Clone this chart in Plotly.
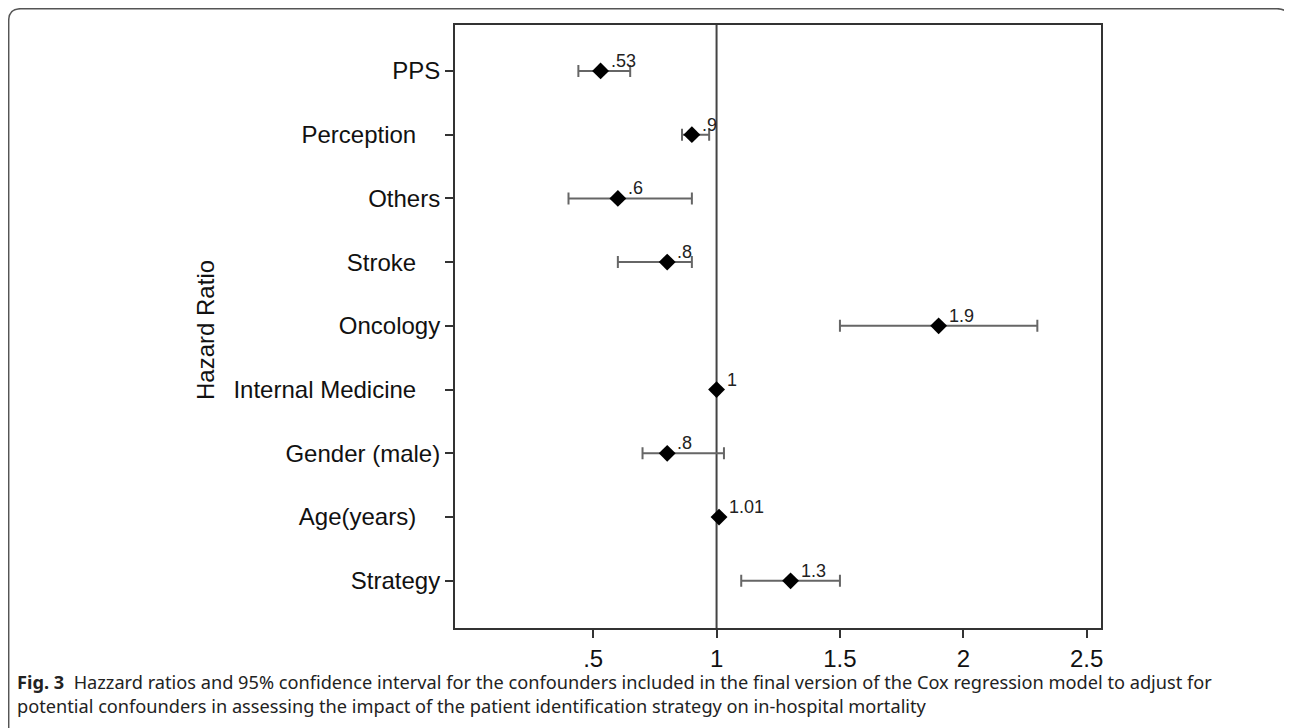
import plotly.graph_objects as go

categories = ["Strategy", "Age(years)", "Gender (male)", "Internal Medicine", "Oncology",
              "Stroke", "Others", "Perception", "PPS"]
label_pad = ["", "\u2002\u2002", "", "\u2002\u2002", "", "\u2002\u2002", "", "\u2002\u2002", ""]
hr = [1.3, 1.01, 0.8, 1.0, 1.9, 0.8, 0.6, 0.9, 0.53]
ci_low = [1.1, 1.01, 0.70, 1.0, 1.5, 0.60, 0.40, 0.86, 0.44]
ci_high = [1.5, 1.01, 1.03, 1.0, 2.3, 0.90, 0.90, 0.97, 0.65]
hr_labels = ["1.3", "1.01", ".8", "1", "1.9", ".8", ".6", ".9", ".53"]
x_ticks = [0.5, 1, 1.5, 2, 2.5]
x_tick_labels = [".5", "1", "1.5", "2", "2.5"]

ypos = list(range(1, len(categories) + 1))
tick_labels = [c + p for c, p in zip(categories, label_pad)]
err_plus = [h - v for h, v in zip(ci_high, hr)]
err_minus = [v - l for v, l in zip(hr, ci_low)]
has_ci = [h > l for h, l in zip(ci_high, ci_low)]

OFF = 8  # page body margin
W, H = 1292 - OFF, 728 - OFF
L, R, T, B = 455 - OFF, 1101 - OFF, 25 - OFF, 628 - OFF
pw, ph = R - L, B - T

def px(x_ref):
    return (x_ref - OFF - L) / pw

def py(y_ref):
    return (B - (y_ref - OFF)) / ph

FONT = "Liberation Sans, Arial, Helvetica, sans-serif"

fig = go.Figure()

# reference line at HR = 1
fig.add_shape(type="line", xref="x", yref="paper", x0=1, x1=1, y0=0, y1=1,
              line=dict(color="#444444", width=2), layer="below")

# confidence intervals
fig.add_trace(go.Scatter(
    x=[h for h, c in zip(hr, has_ci) if c],
    y=[y for y, c in zip(ypos, has_ci) if c],
    mode="markers",
    marker=dict(size=0.1, color="rgba(0,0,0,0)"),
    error_x=dict(type="data", symmetric=False,
                 array=[e for e, c in zip(err_plus, has_ci) if c],
                 arrayminus=[e for e, c in zip(err_minus, has_ci) if c],
                 color="#666666", thickness=2, width=6),
    hoverinfo="skip", showlegend=False))

# point estimates
fig.add_trace(go.Scatter(
    x=hr, y=ypos, mode="markers",
    marker=dict(symbol="diamond", size=13, color="black"),
    showlegend=False))

# value labels
for xv, yv, t in zip(hr, ypos, hr_labels):
    fig.add_annotation(x=xv, y=yv, xref="x", yref="y", text=t, showarrow=False,
                       xanchor="left", yanchor="middle", xshift=8, yshift=10,
                       font=dict(family=FONT, size=18, color="#222222"))

axis_common = dict(ticks="outside", ticklen=8, tickwidth=1.5, tickcolor="#333333",
                   showgrid=False, zeroline=False, showline=True, linecolor="#333333",
                   linewidth=2, mirror=True,
                   tickfont=dict(family=FONT, size=24, color="#111111"))
fig.update_xaxes(range=[-0.06, 2.558], tickvals=x_ticks, ticktext=x_tick_labels, **axis_common)
fig.update_yaxes(range=[0.26, 9.72], tickvals=ypos, ticktext=tick_labels, **axis_common)

# y-axis title
fig.add_annotation(text="Hazard Ratio", xref="paper", yref="paper",
                   x=px(205), y=py(330), xanchor="center", yanchor="middle",
                   textangle=-90, showarrow=False,
                   font=dict(family=FONT, size=24, color="#111111"))

# caption
fig.add_annotation(
    text="<b>Fig. 3</b>  Hazzard ratios and 95% confidence interval for the confounders included in the final version of the Cox regression model to adjust for<br>"
         "potential confounders in assessing the impact of the patient identification strategy on in-hospital mortality",
    xref="paper", yref="paper", x=px(15), y=py(668), xanchor="left", yanchor="top",
    align="left", showarrow=False,
    font=dict(family="Noto Sans, Open Sans, sans-serif", size=18.2, color="#222222"))

# outer rounded frame (open at the bottom)
x0, x1, y0, y1, r = 8.7, 1289, 8.7, 760, 12
rx, ry = r / pw, r / ph
path = (f"M {px(x0)+rx},{py(y0)} L {px(x1)-rx},{py(y0)} Q {px(x1)},{py(y0)} {px(x1)},{py(y0)-ry} "
        f"L {px(x1)},{py(y1)} M {px(x0)},{py(y1)} L {px(x0)},{py(y0)-ry} Q {px(x0)},{py(y0)} {px(x0)+rx},{py(y0)}")
fig.add_shape(type="path", xref="paper", yref="paper", path=path,
              line=dict(color="#555555", width=1.5))

fig.update_layout(width=W, height=H, margin=dict(l=L, r=W - R, t=T, b=H - B),
                  plot_bgcolor="white", paper_bgcolor="white", showlegend=False)

fig.write_html("out.html")
